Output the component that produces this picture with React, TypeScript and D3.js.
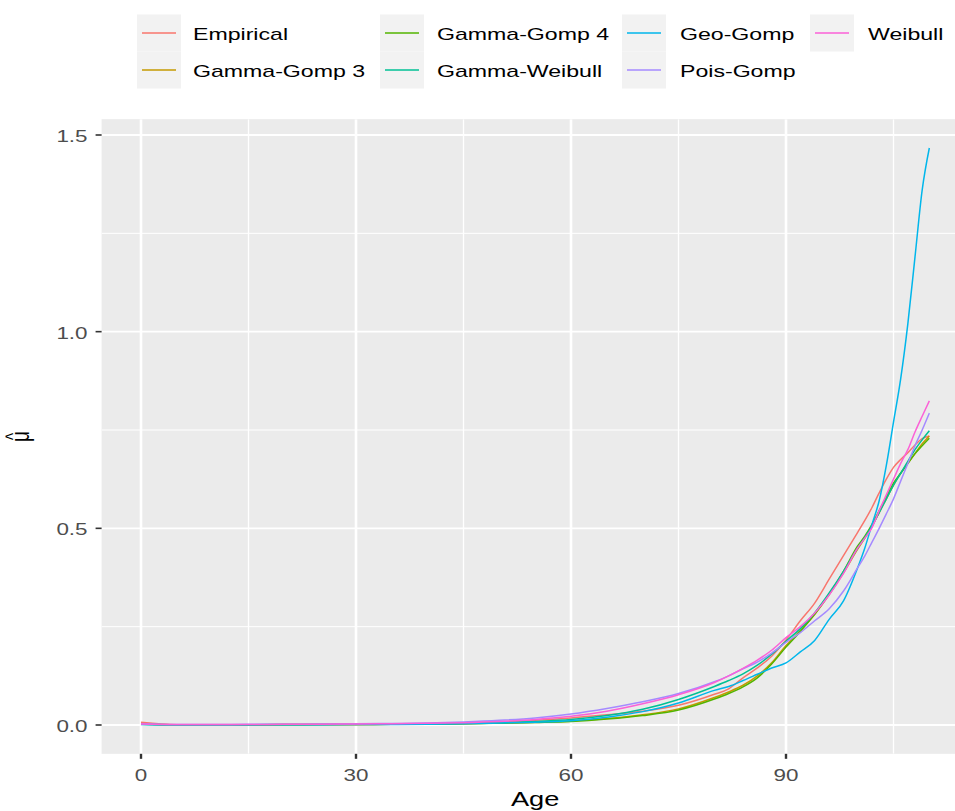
import React from "react";
import * as d3 from "d3";

const ages = [0,5,10,15,20,25,30,35,40,45,50,55,60,65,70,75,80,82,84,86,88,90,92,94,96,98,100,101,102,103,104,105,106,107,108,109,110];

const empirical = [0.007,0.0006,0.0004,0.0007,0.0011,0.0012,0.0014,0.0019,0.0029,0.0046,0.0074,0.0118,0.018,0.026,0.035,0.05,0.078,0.092,0.12,0.145,0.175,0.216,0.265,0.31,0.37,0.43,0.49,0.52,0.553,0.59,0.625,0.655,0.675,0.692,0.712,0.728,0.735];
const gammaGomp3 = [0.0025,0.0008,0.0008,0.0009,0.001,0.0011,0.0013,0.0017,0.0024,0.0034,0.0049,0.0071,0.0103,0.0163,0.026,0.041,0.07,0.084,0.101,0.125,0.158,0.202,0.24,0.281,0.331,0.386,0.447,0.475,0.505,0.54,0.575,0.61,0.64,0.665,0.69,0.715,0.735];
const gammaGomp4 = [0.002,0.0007,0.0007,0.0008,0.0009,0.001,0.0012,0.0016,0.0022,0.003,0.0044,0.0064,0.009,0.015,0.024,0.038,0.066,0.08,0.097,0.12,0.155,0.198,0.238,0.282,0.332,0.39,0.455,0.48,0.51,0.545,0.58,0.615,0.64,0.665,0.69,0.71,0.729];
const gammaWeibull = [0.002,0.0006,0.0007,0.0009,0.0011,0.0013,0.0017,0.0023,0.003,0.0042,0.0062,0.0092,0.014,0.024,0.04,0.065,0.098,0.113,0.13,0.152,0.18,0.213,0.245,0.285,0.335,0.39,0.45,0.477,0.506,0.54,0.575,0.61,0.64,0.67,0.70,0.725,0.748];
const geoGomp = [0.001,0.0005,0.0005,0.0006,0.0007,0.0009,0.0011,0.0013,0.0022,0.0032,0.005,0.0072,0.011,0.02,0.034,0.056,0.088,0.098,0.113,0.129,0.145,0.158,0.186,0.215,0.268,0.315,0.40,0.45,0.51,0.57,0.66,0.77,0.88,1.02,1.19,1.36,1.467];
const poisGomp = [0.003,0.0012,0.0013,0.0016,0.002,0.0024,0.003,0.0038,0.0052,0.0078,0.0118,0.018,0.028,0.042,0.059,0.08,0.11,0.125,0.143,0.16,0.183,0.21,0.235,0.265,0.295,0.34,0.40,0.43,0.465,0.50,0.537,0.575,0.62,0.665,0.71,0.75,0.793];
const weibull = [0.0025,0.001,0.0011,0.0013,0.0016,0.002,0.0025,0.0032,0.0043,0.006,0.009,0.014,0.022,0.035,0.054,0.077,0.108,0.125,0.144,0.165,0.19,0.222,0.25,0.285,0.33,0.385,0.45,0.475,0.502,0.545,0.585,0.625,0.665,0.70,0.745,0.785,0.824];

const seriesNames = ["Empirical","Gamma-Gomp 3","Gamma-Gomp 4","Gamma-Weibull","Geo-Gomp","Pois-Gomp","Weibull"];
const seriesValues = [empirical, gammaGomp3, gammaGomp4, gammaWeibull, geoGomp, poisGomp, weibull];
const seriesColors = ["#F8766D","#C49A00","#53B400","#00C094","#00B6EB","#A58AFF","#FB61D7"];

const xMajor = [0,30,60,90];
const xMinor = [15,45,75,105];
const yMajor = [0,0.5,1.0,1.5];
const yMinor = [0.25,0.75,1.25];
const yTickLabels = ["0.0","0.5","1.0","1.5"];

const W = 955, H = 811;
const SX = 1.36; // horizontal stretch of the reference raster
const FONT = "'Liberation Sans', Arial, sans-serif";

export default function App() {
  const x = d3.scaleLinear().domain([0, 30]).range([141, 356]);
  const y = d3.scaleLinear().domain([0, 1.5]).range([725, 135]);
  const px0 = x(-5.5), px1 = x(115.5);
  const py0 = y(-0.0733), py1 = y(1.5403);

  const line = d3.line<[number, number]>()
    .x(d => x(d[0]))
    .y(d => y(d[1]))
    .curve(d3.curveMonotoneX);

  const legendCols = [
    { keyX: 137, textX: 193, items: [0, 1] },
    { keyX: 380, textX: 437, items: [2, 3] },
    { keyX: 622, textX: 680, items: [4, 5] },
    { keyX: 810, textX: 868, items: [6] },
  ];
  const rowY = [33, 70];
  const keyW = 44, keyH = 37;

  const stretchText = (tx: number, ty: number, s: string, anchor: string, size: number, fill: string) => (
    <g transform={`translate(${tx},${ty}) scale(${SX},1)`}>
      <text textAnchor={anchor} dominantBaseline="central" fontSize={size} fill={fill} fontFamily={FONT}>{s}</text>
    </g>
  );

  const yMid = (py0 + py1) / 2;

  return (
    <svg width={W} height={H} style={{ position: "absolute", left: 0, top: 0, background: "#fff" }}>
      <defs>
        <clipPath id="panel">
          <rect x={px0} y={py1} width={px1 - px0} height={py0 - py1} />
        </clipPath>
      </defs>
      <rect x={px0} y={py1} width={px1 - px0} height={py0 - py1} fill="#EBEBEB" />
      <g clipPath="url(#panel)">
        {xMinor.map(v => <line key={"xm" + v} x1={x(v)} x2={x(v)} y1={py1} y2={py0} stroke="#fff" strokeWidth={1.3} />)}
        {yMinor.map(v => <line key={"ym" + v} x1={px0} x2={px1} y1={y(v)} y2={y(v)} stroke="#fff" strokeWidth={1} />)}
        {xMajor.map(v => <line key={"xM" + v} x1={x(v)} x2={x(v)} y1={py1} y2={py0} stroke="#fff" strokeWidth={2.6} />)}
        {yMajor.map(v => <line key={"yM" + v} x1={px0} x2={px1} y1={y(v)} y2={y(v)} stroke="#fff" strokeWidth={1.9} />)}
        {seriesValues.map((vals, i) => (
          <path key={seriesNames[i]} d={line(ages.map((a, j) => [a, vals[j]] as [number, number])) || ""}
            fill="none" stroke={seriesColors[i]} strokeWidth={1.5} />
        ))}
      </g>
      {xMajor.map(v => <line key={"xt" + v} x1={x(v)} x2={x(v)} y1={py0} y2={py0 + 5} stroke="#333" strokeWidth={2.4} />)}
      {yMajor.map(v => <line key={"yt" + v} x1={px0 - 6} x2={px0} y1={y(v)} y2={y(v)} stroke="#333" strokeWidth={1.6} />)}
      {xMajor.map(v => <React.Fragment key={"xl" + v}>{stretchText(x(v), py0 + 21, String(v), "middle", 16.5, "#4D4D4D")}</React.Fragment>)}
      {yMajor.map((v, i) => <React.Fragment key={"yl" + v}>{stretchText(px0 - 14, y(v) + 1, yTickLabels[i], "end", 16.5, "#4D4D4D")}</React.Fragment>)}
      {stretchText((px0 + px1) / 2, 799, "Age", "middle", 20, "#000")}
      <g transform={`translate(24,${yMid}) scale(${SX},1) rotate(-90)`}>
        <text textAnchor="middle" y={4} fontSize={19} fill="#000" fontFamily={FONT}>{"\u03BC"}</text>
        <text textAnchor="middle" y={-3} fontSize={15} fill="#000" fontFamily={FONT}>{"^"}</text>
      </g>
      {legendCols.map((col) => col.items.map((si, ri) => (
        <g key={"lg" + si}>
          <rect x={col.keyX} y={rowY[ri] - keyH / 2} width={keyW} height={keyH} fill="#F2F2F2" />
          <line x1={col.keyX + 5} x2={col.keyX + keyW - 5} y1={rowY[ri]} y2={rowY[ri]} stroke={seriesColors[si]} strokeWidth={1.5} />
          {stretchText(col.textX, rowY[ri] + 1, seriesNames[si], "start", 17, "#000")}
        </g>
      )))}
    </svg>
  );
}
